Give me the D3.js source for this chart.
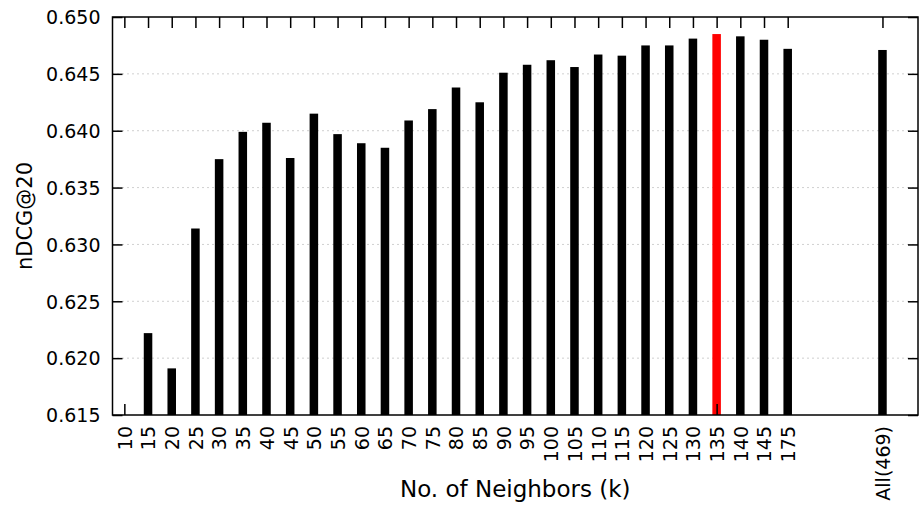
<!DOCTYPE html>
<html>
<head>
<meta charset="utf-8">
<script src="https://cdn.jsdelivr.net/npm/d3@7"></script>
<style>
  body { margin: 0; background: #fff; }
  text { font-family: "DejaVu Sans", sans-serif; fill: #000; }
  .grid line { stroke: #a0a0a0; stroke-width: 1; stroke-dasharray: 1,4; }
  .axis path, .axis line { stroke: #000; stroke-width: 1.5; }
</style>
</head>
<body>
<script>
var width = 920,
  height = 505;

// neighbour counts on the x axis; the last one sits apart after a gap
var categories = ["10", "15", "20", "25", "30", "35", "40", "45", "50", "55",
  "60", "65", "70", "75", "80", "85", "90", "95", "100", "105",
  "110", "115", "120", "125", "130", "135", "140", "145", "175", "All(469)"];

// nDCG@20 per k (10 falls below the visible range)
var ndcg = [null, 0.6222, 0.6191, 0.6314, 0.6375, 0.6399, 0.6407, 0.6376, 0.6415, 0.6397,
  0.6389, 0.6385, 0.6409, 0.6419, 0.6438, 0.6425, 0.6451, 0.6458, 0.6462, 0.6456,
  0.6467, 0.6466, 0.6475, 0.6475, 0.6481, 0.6485, 0.6483, 0.6480, 0.6472, 0.6471];

var best = "135";
var yTicks = [0.615, 0.620, 0.625, 0.630, 0.635, 0.640, 0.645, 0.650];
var gapBeforeLast = 3;

var margin = { top: 17, right: 2, bottom: 90, left: 112.5 };

// slot index along the axis, with empty slots before "All"
function slot(d, i) {
  return i < categories.length - 1 ? i : i + gapBeforeLast;
}

var x = d3.scaleLinear()
  .domain([-0.5, categories.length - 1 + gapBeforeLast + 1.5])
  .range([margin.left, width - margin.right]);

var y = d3.scaleLinear()
  .domain([0.615, 0.650])
  .range([height - margin.bottom, margin.top]);

var svg = d3.select("body").append("svg")
  .attr("width", width)
  .attr("height", height);

var data = categories.map(function(c, i) {
  return { k: c, v: ndcg[i], pos: slot(c, i) };
});

// dotted horizontal grid
svg.append("g")
  .attr("class", "grid")
  .selectAll("line")
  .data(yTicks.slice(1, -1))
  .enter().append("line")
    .attr("x1", x.range()[0])
    .attr("x2", x.range()[1])
    .attr("y1", function(d) { return y(d); })
    .attr("y2", function(d) { return y(d); });

var barWidth = (x(1) - x(0)) * 0.36;

svg.append("g")
  .selectAll("rect")
  .data(data.filter(function(d) { return d.v != null; }))
  .enter().append("rect")
    .attr("x", function(d) { return x(d.pos) - barWidth / 2; })
    .attr("width", barWidth)
    .attr("y", function(d) { return y(d.v); })
    .attr("height", function(d) { return y.range()[0] - y(d.v); })
    .attr("fill", function(d) { return d.k === best ? "#ff0000" : "#000"; });

var tickPos = data.map(function(d) { return d.pos; });

var xAxis = svg.append("g")
  .attr("class", "axis")
  .attr("transform", "translate(0," + y.range()[0] + ")")
  .call(d3.axisBottom(x)
    .tickValues(tickPos)
    .tickSizeInner(-11)
    .tickSizeOuter(0)
    .tickFormat(function(d, i) { return categories[i]; }));

xAxis.selectAll("text")
  .attr("font-size", "19px")
  .attr("text-anchor", "end")
  .attr("transform", "rotate(-90)")
  .attr("x", -11)
  .attr("y", 0)
  .attr("dy", "0.36em");

svg.append("g")
  .attr("class", "axis")
  .attr("transform", "translate(0," + margin.top + ")")
  .call(d3.axisTop(x)
    .tickValues(tickPos)
    .tickSizeInner(-11)
    .tickSizeOuter(0)
    .tickFormat(""));

var yAxis = svg.append("g")
  .attr("class", "axis")
  .attr("transform", "translate(" + x.range()[0] + ",0)")
  .call(d3.axisLeft(y)
    .tickValues(yTicks)
    .tickSizeInner(-10)
    .tickSizeOuter(0)
    .tickFormat(d3.format(".3f")));

yAxis.selectAll("text")
  .attr("font-size", "19px")
  .attr("x", -12)
  .attr("dy", "0.36em");

svg.append("g")
  .attr("class", "axis")
  .attr("transform", "translate(" + x.range()[1] + ",0)")
  .call(d3.axisRight(y)
    .tickValues(yTicks)
    .tickSizeInner(-10)
    .tickSizeOuter(0)
    .tickFormat(""));

svg.selectAll(".axis .domain").remove();

// frame
svg.append("rect")
  .attr("x", x.range()[0])
  .attr("y", y.range()[1])
  .attr("width", x.range()[1] - x.range()[0])
  .attr("height", y.range()[0] - y.range()[1])
  .attr("fill", "none")
  .attr("stroke", "#000")
  .attr("stroke-width", 1.5);

svg.append("text")
  .attr("x", (x.range()[0] + x.range()[1]) / 2)
  .attr("y", 497)
  .attr("text-anchor", "middle")
  .attr("font-size", "23px")
  .text("No. of Neighbors (k)");

svg.append("text")
  .attr("transform", "translate(32," + (y.range()[0] + y.range()[1]) / 2 + ") rotate(-90)")
  .attr("text-anchor", "middle")
  .attr("font-size", "21px")
  .text("nDCG@20");
</script>
</body>
</html>
